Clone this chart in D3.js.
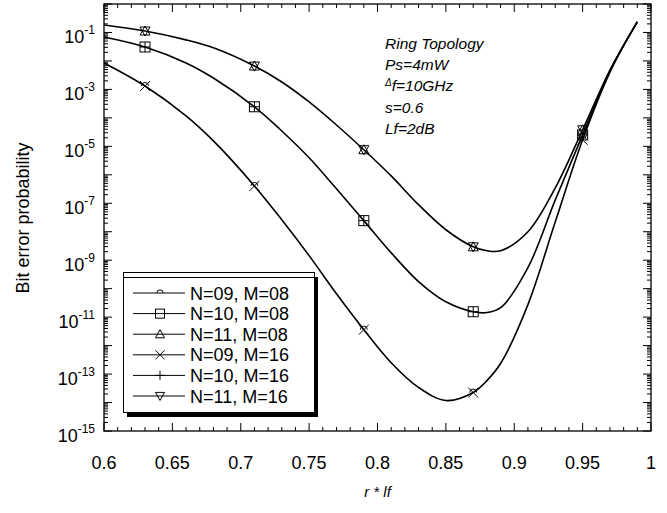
<!DOCTYPE html>
<html><head><meta charset="utf-8">
<script src="https://cdn.jsdelivr.net/npm/d3@7"></script>
<style>
body{margin:0;background:#fff}
svg{display:block}
text{font-family:"Liberation Sans",Arial,sans-serif;fill:#000}
</style>
</head><body>
<svg id="chart" width="667" height="513"></svg>
<script>
// ---- data (log10 of bit error probability) ----
const xValues = [0.60,0.63,0.66,0.68,0.71,0.73,0.75,0.77,0.79,0.81,0.83,0.85,0.87,0.88,0.89,0.91,0.93,0.95,0.97,0.99];
const logBerN09 = [-2.07,-2.88,-3.93,-4.81,-6.39,-7.58,-8.84,-10.18,-11.44,-12.60,-13.47,-13.93,-13.65,-13.23,-12.63,-10.56,-7.65,-4.77,-2.39,-0.63];
const logBerN10 = [-1.16,-1.51,-2.07,-2.60,-3.61,-4.46,-5.40,-6.49,-7.61,-8.74,-9.75,-10.46,-10.81,-10.84,-10.67,-9.26,-6.88,-4.60,-2.35,-0.63];
const logBerN11 = [-0.74,-0.95,-1.26,-1.54,-2.18,-2.74,-3.44,-4.25,-5.12,-6.04,-7.05,-7.93,-8.53,-8.67,-8.67,-8.00,-6.46,-4.42,-2.32,-0.63];
const markerX = [0.63,0.71,0.79,0.87,0.95];
const seriesLabels = ["N=09, M=08","N=10, M=08","N=11, M=08","N=09, M=16","N=10, M=16","N=11, M=16"];
const seriesCurve = ["N09","N10","N11","N09","N10","N11"];
const seriesMarker = ["circle","square","triUp","cross","plus","triDown"];
const xTickValues = [0.6,0.65,0.7,0.75,0.8,0.85,0.9,0.95,1.0];
const yLabelExps = [-1,-3,-5,-7,-9,-11,-13,-15];
const notes = ["Ring Topology","Ps=4mW","f=10GHz","s=0.6","Lf=2dB"];

const curves = {N09: logBerN09, N10: logBerN10, N11: logBerN11};

// ---- layout ----
const svg = d3.select("#chart");
const L = 104, R = 651, T = 4, B = 431;
const x = d3.scaleLinear().domain([0.6, 1.0]).range([L, R]);
const y = d3.scaleLog().domain([1e-15, 1]).range([B, T]);

// frame
svg.append("rect").attr("x", L).attr("y", T).attr("width", R - L).attr("height", B - T)
  .attr("fill", "none").attr("stroke", "#000").attr("stroke-width", 1.3);

// x ticks (major every 0.05, minor every 0.01), inward, top & bottom
const xMinor = d3.range(60, 101, 1).map(v => v / 100);
const tickG = svg.append("g").attr("stroke", "#000").attr("stroke-width", 1);
xMinor.forEach(v => {
  const major = Math.round(v * 100) % 5 === 0;
  const len = major ? 8 : 4;
  tickG.append("line").attr("x1", x(v)).attr("x2", x(v)).attr("y1", B).attr("y2", B - len);
  tickG.append("line").attr("x1", x(v)).attr("x2", x(v)).attr("y1", T).attr("y2", T + len);
});
// y ticks
for (let e = -15; e <= 0; e++) {
  for (let m = 1; m <= 9; m++) {
    const v = m * Math.pow(10, e);
    if (v > 1) continue;
    const len = m === 1 ? 8 : 4;
    tickG.append("line").attr("x1", L).attr("x2", L + len).attr("y1", y(v)).attr("y2", y(v));
    tickG.append("line").attr("x1", R).attr("x2", R - len).attr("y1", y(v)).attr("y2", y(v));
  }
}

// x tick labels
svg.append("g").selectAll("text").data(xTickValues).join("text")
  .attr("x", d => x(d)).attr("y", 469).attr("text-anchor", "middle")
  .attr("font-size", 18).text(d => String(+d.toFixed(2)));

// y tick labels
const yl = svg.append("g").selectAll("text").data(yLabelExps).join("text")
  .attr("x", 95).attr("y", d => y(Math.pow(10, d)) + 11).attr("text-anchor", "end")
  .attr("font-size", 18);
yl.append("tspan").text("10");
yl.append("tspan").attr("dy", -9).attr("font-size", 12).text(d => String(d));

// axis titles
svg.append("text").attr("x", x(0.8)).attr("y", 497).attr("text-anchor", "middle")
  .attr("font-size", 15).attr("font-style", "italic").text("r * lf");
svg.append("text").attr("transform", "translate(29,218) rotate(-90)").attr("text-anchor", "middle")
  .attr("font-size", 18).text("Bit error probability");

// annotations
const notesG = svg.append("g").attr("font-style", "italic").attr("font-size", 15.5);
notes.forEach((t, i) => {
  const tx = notesG.append("text").attr("x", 385).attr("y", 49 + i * 21.2);
  if (i === 2) {
    tx.append("tspan").attr("font-size", 10).attr("dy", -5).text("Δ");
    tx.append("tspan").attr("dy", 5).text(t);
  } else tx.text(t);
});

// curves
const line = d3.line().x(d => x(d[0])).y(d => y(Math.pow(10, d[1]))).curve(d3.curveCatmullRom.alpha(0.5));
["N09","N10","N11"].forEach(k => {
  svg.append("path").datum(xValues.map((v, i) => [v, curves[k][i]]))
    .attr("d", line).attr("fill", "none").attr("stroke", "#000").attr("stroke-width", 1.6);
});

// marker drawing
function drawMarker(g, type, cx, cy, s) {
  const h = s / 2;
  let el;
  if (type === "circle") el = g.append("path").attr("d", `M${cx - h * 0.7},${cy}A${h * 0.7},${h * 0.7} 0 0 1 ${cx + h * 0.7},${cy}`);
  else if (type === "square") el = g.append("rect").attr("x", cx - h).attr("y", cy - h).attr("width", s).attr("height", s);
  else if (type === "triUp") el = g.append("path").attr("d", `M${cx - h},${cy + h * 0.8}L${cx + h},${cy + h * 0.8}L${cx},${cy - h}Z`);
  else if (type === "triDown") el = g.append("path").attr("d", `M${cx - h},${cy - h * 0.8}L${cx + h},${cy - h * 0.8}L${cx},${cy + h}Z`);
  else if (type === "cross") el = g.append("path").attr("d", `M${cx - h},${cy - h}L${cx + h},${cy + h}M${cx - h},${cy + h}L${cx + h},${cy - h}`);
  else if (type === "plus") el = g.append("path").attr("d", `M${cx - h},${cy}L${cx + h},${cy}M${cx},${cy - h}L${cx},${cy + h}`);
  el.attr("fill", "none").attr("stroke", "#000").attr("stroke-width", 1);
}

const mg = svg.append("g");
seriesLabels.forEach((name, si) => {
  const arr = curves[seriesCurve[si]];
  markerX.forEach(mx => {
    const idx = xValues.findIndex(v => Math.abs(v - mx) < 1e-9);
    drawMarker(mg, seriesMarker[si], x(mx), y(Math.pow(10, arr[idx])), 10);
  });
});

// legend
const lg = svg.append("g");
lg.append("rect").attr("x", 127).attr("y", 277).attr("width", 191).attr("height", 140).attr("fill", "#000");
lg.append("rect").attr("x", 123.5).attr("y", 272.5).attr("width", 191).attr("height", 140)
  .attr("fill", "#fff").attr("stroke", "#000").attr("stroke-width", 1);
lg.append("line").attr("x1", 124).attr("x2", 314).attr("y1", 277.5).attr("y2", 277.5).attr("stroke", "#000").attr("stroke-width", 1);
seriesLabels.forEach((name, i) => {
  const ly = 293 + i * 20.6;
  lg.append("line").attr("x1", 133).attr("x2", 185).attr("y1", ly).attr("y2", ly)
    .attr("stroke", "#000").attr("stroke-width", 1);
  drawMarker(lg, seriesMarker[i], 160, ly, 9);
  lg.append("text").attr("x", 190).attr("y", ly + 6.5).attr("font-size", 18).text(name);
});
</script>
</body></html>
